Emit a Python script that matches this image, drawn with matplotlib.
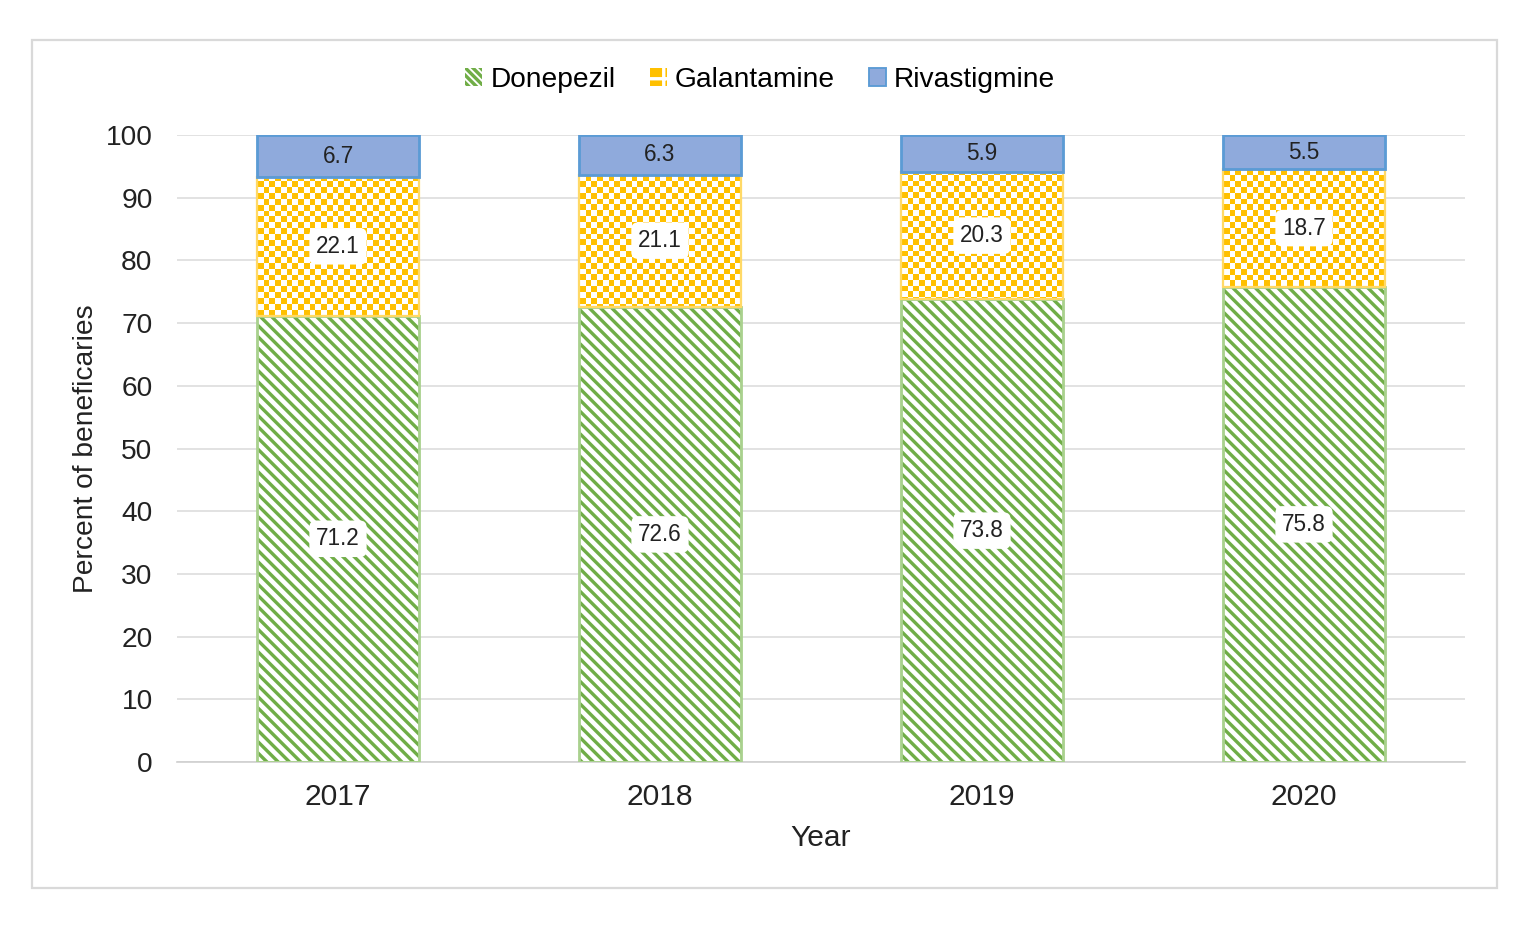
import numpy as np
import matplotlib.pyplot as plt
from matplotlib.patches import Patch, Rectangle

years = ['2017', '2018', '2019', '2020']
donepezil = [71.2, 72.6, 73.8, 75.8]
galantamine = [22.1, 21.1, 20.3, 18.7]
rivastigmine = [6.7, 6.3, 5.9, 5.5]

green = '#70AD47'
green_edge = '#A9D18E'
gold = '#FFC000'
gold_edge = '#FFD966'
blue = '#8FAADC'
blue_edge = '#5B9BD5'

plt.rcParams['font.family'] = ['Liberation Sans', 'DejaVu Sans']
plt.rcParams['hatch.linewidth'] = 1.8

dpi = 135
fig = plt.figure(figsize=(1530 / dpi, 934 / dpi), dpi=dpi)
# outer chart frame
fig.patches.append(Rectangle((32 / 1530, 1 - 888 / 934), (1497 - 32) / 1530, (888 - 40) / 934,
                             transform=fig.transFigure, fill=False, ec='#D9D9D9', lw=1.2))
ax = fig.add_axes([177 / 1530, 1 - 762 / 934, (1465 - 177) / 1530, (762 - 135) / 934])

x = np.arange(len(years))
w = 0.506
bottom2 = np.array(donepezil)
bottom3 = bottom2 + np.array(galantamine)

b1 = ax.bar(x, donepezil, w, color='white', edgecolor=green, hatch='\\\\\\\\', lw=0, zorder=2)
ax.bar(x, donepezil, w, fill=False, edgecolor=green_edge, lw=1.5, zorder=4)
b2 = ax.bar(x, galantamine, w, bottom=bottom2, color=gold, lw=0, zorder=2)
ax.bar(x, galantamine, w, bottom=bottom2, fill=False, edgecolor=gold_edge, lw=1.2, zorder=4)
b3 = ax.bar(x, rivastigmine, w, bottom=bottom3, color=blue, edgecolor=blue_edge, lw=1.5, zorder=4)

# checkerboard fill for galantamine
nx, ny = 224, 108
ii, jj = np.meshgrid(np.arange(nx), np.arange(ny))
mask = (ii + jj) % 2
img = np.ones((ny, nx, 3))
img[mask == 1] = [1.0, 0.753, 0.0]
for bar in b2:
    im = ax.imshow(img, extent=(-0.5, 3.5, 0, 100), origin='lower', aspect='auto',
                   interpolation='nearest', zorder=3)
    im.set_clip_path(bar)

box = dict(boxstyle='round,pad=0.3', fc='white', ec='none')
for i in range(len(years)):
    ax.text(x[i], donepezil[i] / 2, f'{donepezil[i]:.1f}', ha='center', va='center',
            fontsize=12, color='#222222', bbox=box, zorder=6)
    ax.text(x[i], bottom2[i] + galantamine[i] / 2, f'{galantamine[i]:.1f}', ha='center',
            va='center', fontsize=12, color='#222222', bbox=box, zorder=6)
    ax.text(x[i], bottom3[i] + rivastigmine[i] / 2, f'{rivastigmine[i]:.1f}', ha='center',
            va='center', fontsize=12, color='#222222', zorder=6)

ax.set_xlim(-0.5, 3.5)
ax.set_ylim(0, 100)
ax.set_yticks(range(0, 101, 10))
ax.set_xticks(x)
ax.set_xticklabels(years)
ax.tick_params(axis='both', length=0, labelsize=15, colors='#222222')
ax.tick_params(axis='x', labelsize=16, pad=11)
ax.tick_params(axis='y', pad=13)
ax.grid(axis='y', color='#D9D9D9', lw=0.8, zorder=0)
ax.set_axisbelow(True)
for s in ['top', 'right', 'left']:
    ax.spines[s].set_visible(False)
ax.spines['bottom'].set_color('#D0D0D0')
ax.spines['bottom'].set_linewidth(0.9)
ax.set_xlabel('Year', fontsize=16, color='#222222', labelpad=7)
ax.set_ylabel('Percent of beneficaries', fontsize=15, color='#222222', labelpad=3.5)

handles = [Patch(facecolor='white', edgecolor=green, hatch='\\\\\\\\\\\\', lw=0),
           Patch(facecolor=gold, edgecolor='white', hatch='+', lw=0),
           Patch(facecolor=blue, edgecolor=blue_edge, lw=1)]
ax.legend(handles, ['Donepezil', 'Galantamine', 'Rivastigmine'], loc='center',
          bbox_to_anchor=(0.453, 1.088), ncol=3, frameon=False, fontsize=15,
          handlelength=0.6, handleheight=0.6, handletextpad=0.3, columnspacing=1.2)

fig.savefig('out.png', dpi=dpi)
